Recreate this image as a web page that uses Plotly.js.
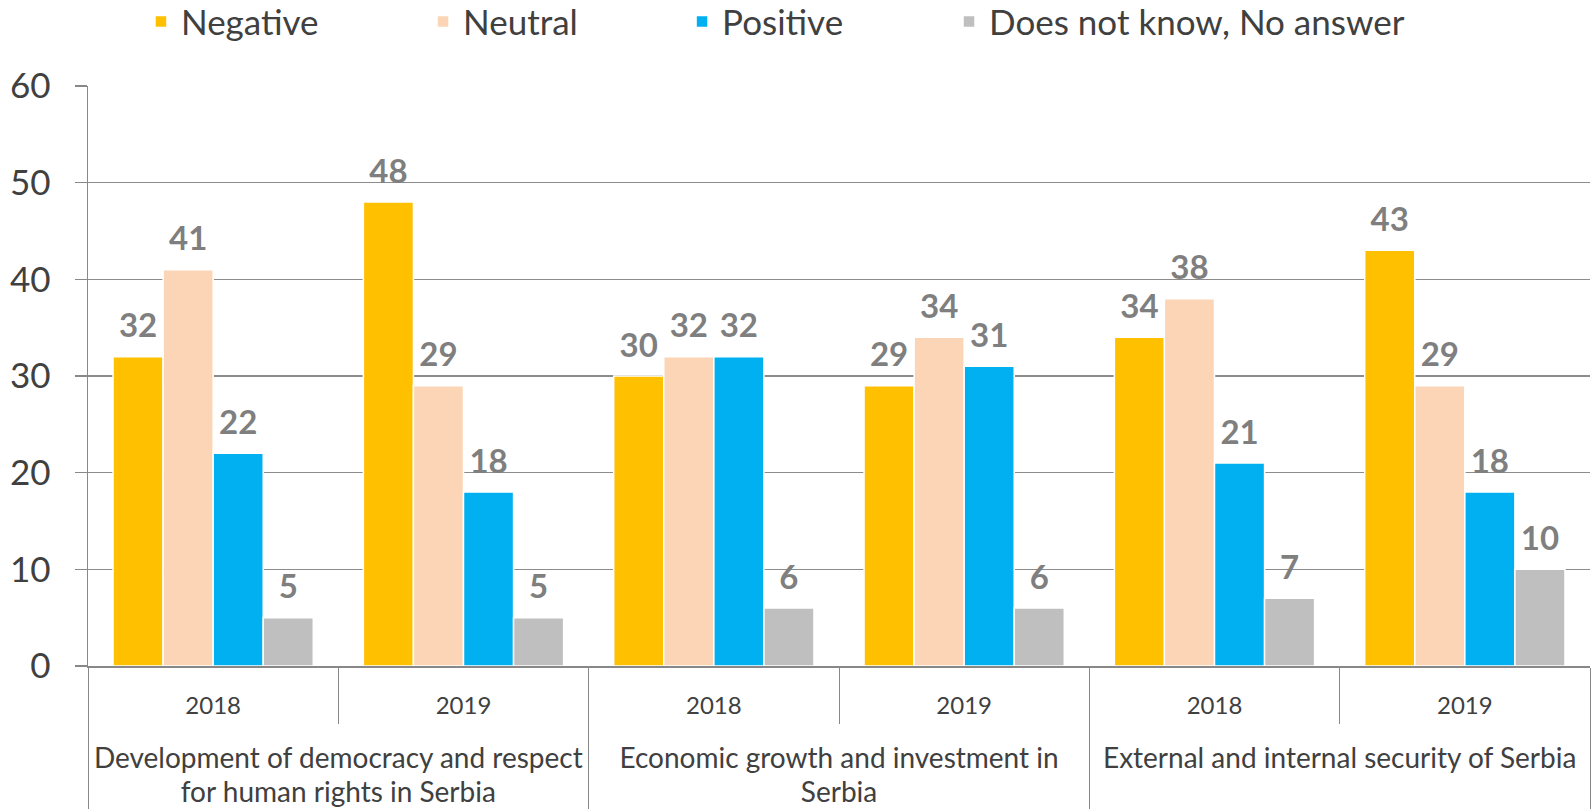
<!DOCTYPE html>
<html><head><meta charset="utf-8">
<script src="https://cdn.plot.ly/plotly-3.0.1.min.js"></script>
<style>html,body{margin:0;padding:0;background:#fff}#chart{width:1591px;height:810px}</style>
</head><body><div id="chart"></div>
<script>
const topics = [
  "Development of democracy and respect<br>for human rights in Serbia",
  "Development of democracy and respect<br>for human rights in Serbia",
  "Economic growth and investment in<br>Serbia",
  "Economic growth and investment in<br>Serbia",
  "External and internal security of Serbia",
  "External and internal security of Serbia"
];
const years = ["2018", "2019", "2018", "2019", "2018", "2019"];
const negative = [32, 48, 30, 29, 34, 43];
const neutral = [41, 29, 32, 34, 38, 29];
const positive = [22, 18, 32, 31, 21, 18];
const noAnswer = [5, 5, 6, 6, 7, 10];
const seriesNames = ["Negative", "Neutral", "Positive", "Does not know, No answer"];
const seriesColors = ["#FFC000", "#FBD5B5", "#00B0F0", "#BFBFBF"];
const seriesValues = [negative, neutral, positive, noAnswer];

const FONT = "Lato, 'Open Sans', sans-serif";
// presentation of category labels (larger outer level, spacer line under years)
const topicLabels = topics.map(t => t.split("<br>").map(l => '<span style="font-size:28px">' + l + '</span>').join("<br>"));
const yearLabels = years.map(y => '<span style="font-size:24px">' + y + '</span><br><span style="font-size:47px">\u00A0</span>');

const legendIds = ["legend", "legend2", "legend3", "legend4"];
const legendX = [0.0886, 0.2659, 0.4287, 0.5965];

const traces = seriesValues.map((vals, i) => ({
  type: "bar",
  name: seriesNames[i],
  legend: legendIds[i],
  x: [topicLabels, yearLabels],
  y: vals,
  marker: {color: seriesColors[i], line: {color: "#ffffff", width: 1.5}},
  text: vals.map(String),
  texttemplate: '<span style="font-size:33px">%{text}</span><br>\u00A0',
  textposition: "outside",
  cliponaxis: false,
  textfont: {family: FONT, size: 11, color: "#7F7F7F", weight: "bold"},
  hoverinfo: "skip"
}));

const layout = {
  width: 1591, height: 810,
  margin: {l: 88, r: 1, t: 86, b: 144},
  paper_bgcolor: "#fff", plot_bgcolor: "#fff",
  barmode: "group", bargap: 0.2, bargroupgap: 0,
  font: {family: FONT, color: "#404040"},
  showlegend: true,
  xaxis: {
    type: "multicategory",
    showline: true, linecolor: "#888", linewidth: 1.5,
    ticks: "outside", tickson: "boundaries", ticklen: 56, tickcolor: "#888", tickwidth: 1,
    showdividers: true, dividercolor: "#888", dividerwidth: 1,
    tickfont: {family: FONT, size: 26, color: "#404040"},
    ticklabelstandoff: 15,
    showgrid: false, fixedrange: true
  },
  yaxis: {
    range: [0, 60], dtick: 10, tick0: 0,
    showgrid: true, gridcolor: "#8C8C8C", gridwidth: 1.5,
    showline: true, linecolor: "#888", linewidth: 1.5,
    ticks: "outside", ticklen: 12, tickcolor: "#888", tickwidth: 1.5,
    ticklabelstandoff: 17,
    zeroline: false,
    tickfont: {family: FONT, size: 35, color: "#404040"},
    fixedrange: true
  }
};
legendIds.forEach((id, i) => {
  layout[id] = {
    orientation: "h", xref: "container", yref: "container",
    x: legendX[i], xanchor: "left", y: 0.973, yanchor: "middle",
    font: {family: FONT, size: 35, color: "#404040"},
    bgcolor: "rgba(0,0,0,0)", itemclick: false, itemdoubleclick: false
  };
});
Plotly.newPlot("chart", traces, layout, {displayModeBar: false, staticPlot: true});
</script></body></html>
